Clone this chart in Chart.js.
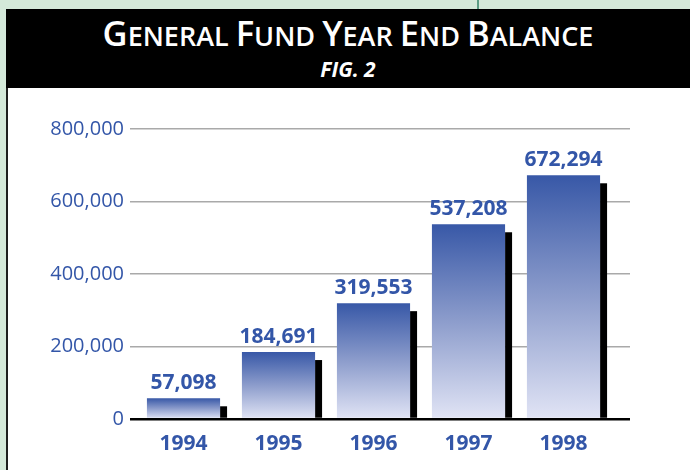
<!DOCTYPE html>
<html>
<head>
<meta charset="utf-8">
<script src="https://cdn.jsdelivr.net/npm/chart.js@4/dist/chart.umd.min.js"></script>
<style>
    html, body { margin: 0; padding: 0; }
    body { width: 690px; height: 470px; overflow: hidden; background: #d4e9d9; position: relative; }
    .vline { position: absolute; left: 477px; top: 0; width: 2px; height: 9px; background: #5c9c84; }
    .panel { position: absolute; left: 6px; top: 9px; right: 0; bottom: 0; background: #fff; border-left: 2px solid #1e1e1e; }
    .titlebar { position: absolute; left: 6px; top: 9px; right: 0; height: 79px; background: #000; color: #fff; text-align: center; font-family: "Open Sans", Lato, sans-serif; }
    .title { position: absolute; left: 0; right: 0; top: 0; font-size: 27px; font-weight: 600; white-space: nowrap; }
    .title .L { font-size: 34.5px; }
    .fig { position: absolute; left: 0; right: 0; top: 46px; font-size: 21px; font-weight: 700; font-style: italic; }
    #chart { position: absolute; left: 0; top: 0; }
</style>
</head>
<body>
<div class="vline"></div>
<div class="panel"></div>
<div class="titlebar">
    <div class="title"><span class="L">G</span>ENERAL <span class="L">F</span>UND <span class="L">Y</span>EAR <span class="L">E</span>ND <span class="L">B</span>ALANCE</div>
    <div class="fig">FIG. 2</div>
</div>
<canvas id="chart" width="690" height="470"></canvas>
<script>
const years = ['1994', '1995', '1996', '1997', '1998'];
const balances = [57098, 184691, 319553, 537208, 672294];
const yTicks = [0, 200000, 400000, 600000, 800000];

const BLUE = '#3356a8';

// grid colour: black base line at zero, grey elsewhere
const gridColor = c => (c.tick && c.tick.value === 0) ? '#000' : '#a9a9a9';
const gridWidth = c => (c.tick && c.tick.value === 0) ? 2.5 : 1.5;

// black drop shadow to the right of each bar
const shadowPlugin = {
    id: 'barShadow',
    beforeDatasetsDraw(chart) {
        const ctx = chart.ctx;
        ctx.save();
        ctx.fillStyle = '#000';
        chart.getDatasetMeta(0).data.forEach(bar => {
            const right = bar.x + bar.width / 2;
            ctx.fillRect(right, bar.y + 8, 7, bar.base - bar.y - 8);
        });
        ctx.restore();
    }
};

// value labels above the bars
const valueLabels = {
    id: 'valueLabels',
    afterDatasetsDraw(chart) {
        const ctx = chart.ctx;
        ctx.save();
        ctx.fillStyle = BLUE;
        ctx.font = 'bold 21px "Open Sans"';
        ctx.textAlign = 'center';
        ctx.textBaseline = 'alphabetic';
        chart.getDatasetMeta(0).data.forEach((bar, i) => {
            ctx.fillText(balances[i].toLocaleString('en-US'), bar.x, bar.y - 9);
        });
        ctx.restore();
    }
};

function barGradient(c) {
    const chart = c.chart;
    const area = chart.chartArea;
    if (!area || c.type !== 'data') return '#6f86c2';
    const top = chart.scales.y.getPixelForValue(balances[c.dataIndex]);
    const g = chart.ctx.createLinearGradient(0, top, 0, area.bottom);
    g.addColorStop(0, '#3858a7');
    g.addColorStop(0.5, '#8d9dcc');
    g.addColorStop(1, '#e1e4f5');
    return g;
}

new Chart(document.getElementById('chart'), {
    type: 'bar',
    data: {
        labels: years,
        datasets: [{
            data: balances,
            backgroundColor: barGradient,
            borderWidth: 0,
            barPercentage: 0.77,
            categoryPercentage: 1
        }]
    },
    options: {
        responsive: false,
        animation: false,
        layout: { padding: { top: 129, left: 0, right: 0, bottom: 0 } },
        plugins: { legend: { display: false }, tooltip: { enabled: false } },
        scales: {
            x: {
                grid: { display: false },
                border: { display: false },
                ticks: { color: BLUE, font: { family: 'Open Sans', size: 21, weight: 'bold' }, padding: 4 },
                afterFit: s => { s.height = 51; }
            },
            y: {
                min: 0,
                max: 800000,
                afterBuildTicks: s => { s.ticks = yTicks.map(v => ({ value: v })); },
                ticks: {
                    color: BLUE,
                    font: { family: 'Open Sans', size: 20 },
                    padding: 6,
                    callback: v => v.toLocaleString('en-US')
                },
                grid: { color: gridColor, lineWidth: gridWidth, tickLength: 6 },
                border: { display: false },
                afterFit: s => { s.width = 136; }
            },
            y2: {
                position: 'right',
                min: 0,
                max: 800000,
                afterBuildTicks: s => { s.ticks = yTicks.map(v => ({ value: v })); },
                ticks: { display: false },
                grid: { drawOnChartArea: false, color: gridColor, lineWidth: gridWidth, tickLength: 19 },
                border: { display: false },
                afterFit: s => { s.width = 79; }
            }
        }
    },
    plugins: [shadowPlugin, valueLabels]
});
</script>
</body>
</html>
